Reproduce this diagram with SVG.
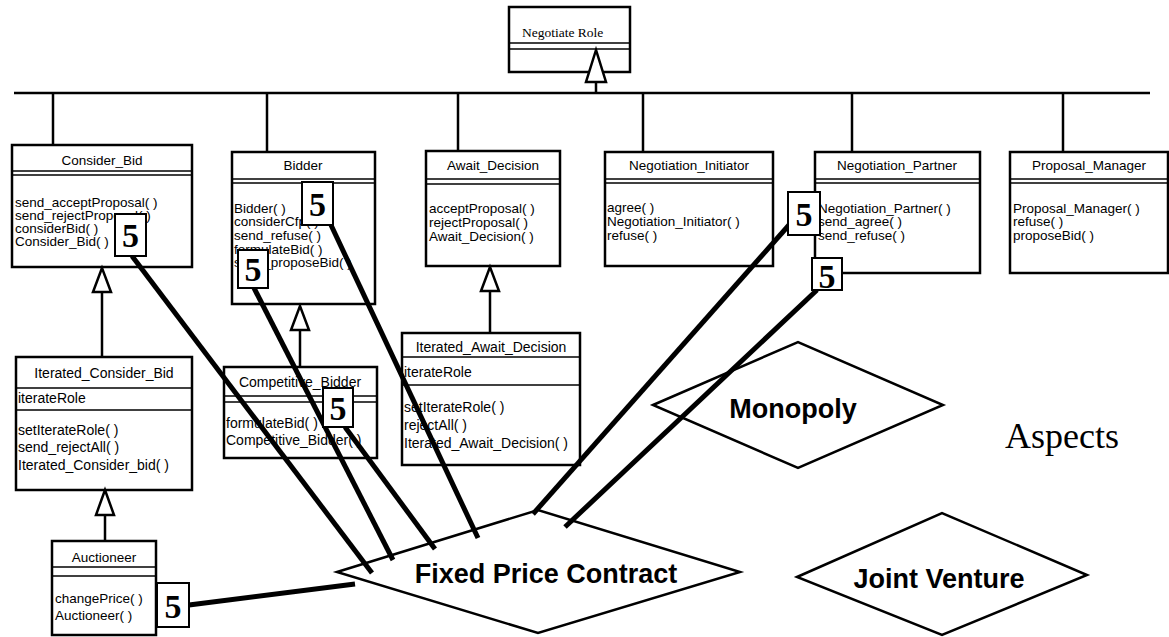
<svg xmlns="http://www.w3.org/2000/svg" width="1169" height="637" viewBox="0 0 1169 637">
  <style>
    .box { fill: #fff; stroke: #000; stroke-width: 2.5; }
    .sep { stroke: #000; stroke-width: 1.5; }
    .t { font-family: "Liberation Sans", Arial, sans-serif; font-size: 13.5px; fill: #000; }
    .it { font-size: 14px; }
    .c { text-anchor: middle; }
    .gen { fill: none; stroke: #000; stroke-width: 2.5; }
    .tri { fill: #fff; stroke: #000; stroke-width: 2.5; stroke-linejoin: miter; }
    .link { stroke: #000; stroke-width: 5; stroke-linecap: butt; }
    .tag { fill: #fff; stroke: #000; stroke-width: 2; }
    .tagt { font-family: "Liberation Serif", "Times New Roman", serif; font-weight: bold; font-size: 34px; text-anchor: middle; }
    .dia { fill: none; stroke: #000; stroke-width: 2.5; stroke-linejoin: miter; }
    .asp { font-family: "Liberation Sans", Arial, sans-serif; font-weight: bold; font-size: 27px; text-anchor: middle; }
  </style>

  <!-- aspect diamonds (behind the aspect links) -->
  <g id="aspect-monopoly">
    <polygon class="dia" points="653,405 798,342 943,405 798,468"/>
    <text class="asp" x="793" y="418">Monopoly</text>
  </g>
  <g id="aspect-joint-venture">
    <polygon class="dia" points="797,577 942,513 1087,575 942,635"/>
    <text class="asp" x="939" y="588">Joint Venture</text>
  </g>
  <g id="aspect-fixed-price">
    <polygon class="dia" points="337,572 538,510 740,572 538,633"/>
    <text class="asp" x="546" y="583">Fixed Price Contract</text>
  </g>
  <text id="aspects-label" x="1005" y="448" font-family="'Liberation Serif', 'Times New Roman', serif" font-size="36">Aspects</text>

  <!-- generalization hierarchy -->
  <g id="inheritance">
    <polyline class="gen" points="14,93 1150,93"/>
    <line class="gen" x1="53" y1="93" x2="53" y2="145"/>
    <line class="gen" x1="267" y1="93" x2="267" y2="152"/>
    <line class="gen" x1="458" y1="93" x2="458" y2="151"/>
    <line class="gen" x1="643" y1="93" x2="643" y2="152"/>
    <line class="gen" x1="852" y1="93" x2="852" y2="152"/>
    <line class="gen" x1="1063" y1="93" x2="1063" y2="152"/>
    <line class="gen" x1="102" y1="292" x2="102" y2="357"/>
    <line class="gen" x1="300" y1="330" x2="300" y2="367"/>
    <line class="gen" x1="490" y1="291" x2="490" y2="333"/>
    <line class="gen" x1="105" y1="515" x2="105" y2="541"/>
  </g>

  <!-- classes -->
  <g id="negotiate-role">
    <rect class="box" x="509" y="7" width="121" height="65"/>
    <line class="sep" x1="509" y1="43" x2="630" y2="43"/>
    <line class="sep" x1="509" y1="49" x2="630" y2="49"/>
    <text x="522" y="37" font-family="'Liberation Serif', 'Times New Roman', serif" font-size="13.5">Negotiate Role</text>
  </g>

  <g id="consider-bid">
    <rect class="box" x="12" y="145" width="180" height="122"/>
    <line class="sep" x1="12" y1="171" x2="192" y2="171"/>
    <line class="sep" x1="12" y1="175" x2="192" y2="175"/>
    <text class="t c" x="102" y="165">Consider_Bid</text>
    <text class="t" x="15" y="207">send_acceptProposal( )</text>
    <text class="t" x="15" y="220">send_rejectProposal( )</text>
    <text class="t" x="15" y="233">considerBid( )</text>
    <text class="t" x="15" y="246">Consider_Bid( )</text>
  </g>

  <g id="bidder">
    <rect class="box" x="232" y="152" width="143" height="152"/>
    <line class="sep" x1="232" y1="179" x2="375" y2="179"/>
    <line class="sep" x1="232" y1="183" x2="375" y2="183"/>
    <text class="t c" x="303" y="170">Bidder</text>
    <text class="t" x="234" y="213">Bidder( )</text>
    <text class="t" x="234" y="226">considerCfp( )</text>
    <text class="t" x="234" y="240">send_refuse( )</text>
    <text class="t" x="234" y="254">formulateBid( )</text>
    <text class="t" x="234" y="267">send_proposeBid( )</text>
  </g>

  <g id="await-decision">
    <rect class="box" x="426" y="151" width="134" height="115"/>
    <line class="sep" x1="426" y1="179" x2="560" y2="179"/>
    <line class="sep" x1="426" y1="184" x2="560" y2="184"/>
    <text class="t c" x="493" y="170">Await_Decision</text>
    <text class="t" x="429" y="213">acceptProposal( )</text>
    <text class="t" x="429" y="227">rejectProposal( )</text>
    <text class="t" x="429" y="241">Await_Decision( )</text>
  </g>

  <g id="negotiation-initiator">
    <rect class="box" x="605" y="152" width="168" height="114"/>
    <line class="sep" x1="605" y1="179" x2="773" y2="179"/>
    <line class="sep" x1="605" y1="183" x2="773" y2="183"/>
    <text class="t c" x="689" y="170">Negotiation_Initiator</text>
    <text class="t" x="607" y="212">agree( )</text>
    <text class="t" x="607" y="226">Negotiation_Initiator( )</text>
    <text class="t" x="607" y="240">refuse( )</text>
  </g>

  <g id="negotiation-partner">
    <rect class="box" x="815" y="152" width="165" height="121"/>
    <line class="sep" x1="815" y1="179" x2="980" y2="179"/>
    <line class="sep" x1="815" y1="183" x2="980" y2="183"/>
    <text class="t c" x="897" y="170">Negotiation_Partner</text>
    <text class="t" x="818" y="213">Negotiation_Partner( )</text>
    <text class="t" x="818" y="226">send_agree( )</text>
    <text class="t" x="818" y="240">send_refuse( )</text>
  </g>

  <g id="proposal-manager">
    <rect class="box" x="1010" y="152" width="158" height="121"/>
    <line class="sep" x1="1010" y1="179" x2="1168" y2="179"/>
    <line class="sep" x1="1010" y1="183" x2="1168" y2="183"/>
    <text class="t c" x="1089" y="170">Proposal_Manager</text>
    <text class="t" x="1013" y="213">Proposal_Manager( )</text>
    <text class="t" x="1013" y="226">refuse( )</text>
    <text class="t" x="1013" y="240">proposeBid( )</text>
  </g>

  <g id="iterated-consider-bid">
    <rect class="box" x="16" y="357" width="176" height="133"/>
    <line class="sep" x1="16" y1="388" x2="192" y2="388"/>
    <line class="sep" x1="16" y1="410" x2="192" y2="410"/>
    <text class="t it c" x="104" y="378">Iterated_Consider_Bid</text>
    <text class="t it" x="18" y="403">iterateRole</text>
    <text class="t it" x="18" y="435">setIterateRole( )</text>
    <text class="t it" x="18" y="452">send_rejectAll( )</text>
    <text class="t it" x="18" y="470">Iterated_Consider_bid( )</text>
  </g>

  <g id="competitive-bidder">
    <rect class="box" x="224" y="367" width="153" height="91"/>
    <line class="sep" x1="224" y1="396" x2="377" y2="396"/>
    <line class="sep" x1="224" y1="402" x2="377" y2="402"/>
    <text class="t it c" x="300" y="387">Competitive_Bidder</text>
    <text class="t it" x="226" y="428">formulateBid( )</text>
    <text class="t it" x="226" y="445">Competitive_Bidder( )</text>
  </g>

  <g id="iterated-await-decision">
    <rect class="box" x="402" y="333" width="178" height="132"/>
    <line class="sep" x1="402" y1="357" x2="580" y2="357"/>
    <line class="sep" x1="402" y1="385" x2="580" y2="385"/>
    <text class="t it c" x="491" y="352">Iterated_Await_Decision</text>
    <text class="t it" x="404" y="377">iterateRole</text>
    <text class="t it" x="404" y="412">setIterateRole( )</text>
    <text class="t it" x="404" y="430">rejectAll( )</text>
    <text class="t it" x="404" y="448">Iterated_Await_Decision( )</text>
  </g>

  <g id="auctioneer">
    <rect class="box" x="52" y="541" width="104" height="94"/>
    <line class="sep" x1="52" y1="567" x2="156" y2="567"/>
    <line class="sep" x1="52" y1="576" x2="156" y2="576"/>
    <text class="t c" x="104" y="562">Auctioneer</text>
    <text class="t" x="55" y="603">changePrice( )</text>
    <text class="t" x="55" y="620">Auctioneer( )</text>
  </g>

  <!-- generalization arrowheads -->
  <g id="inheritance-heads">
    <line class="gen" x1="596" y1="82" x2="596" y2="93"/>
    <polygon class="tri" points="596,50 586,82 606,82"/>
    <polygon class="tri" points="102,268 93,292 111,292"/>
    <polygon class="tri" points="300,306 291,330 309,330"/>
    <polygon class="tri" points="490,267 481,291 499,291"/>
    <polygon class="tri" points="105,490 96,515 114,515"/>
  </g>

  <!-- links from the classes to the aspects -->
  <g id="aspect-links">
    <line class="link" x1="132" y1="256" x2="372" y2="573"/>
    <line class="link" x1="254" y1="288" x2="393" y2="560"/>
    <line class="link" x1="345" y1="427" x2="435" y2="549"/>
    <line class="link" x1="331" y1="225" x2="478" y2="538"/>
    <line class="link" x1="789" y1="225" x2="533" y2="514"/>
    <line class="link" x1="817" y1="290" x2="565" y2="527"/>
    <line class="link" x1="189" y1="605" x2="355" y2="584"/>
  </g>

  <!-- aspect count tags -->
  <g id="tags">
    <g id="tag-consider-bid"><rect class="tag" x="115" y="214" width="31" height="42"/><text class="tagt" x="130.5" y="247">5</text></g>
    <g id="tag-bidder-a"><rect class="tag" x="302" y="182" width="31" height="43"/><text class="tagt" x="317.5" y="216">5</text></g>
    <g id="tag-bidder-b"><rect class="tag" x="238" y="250" width="30" height="38"/><text class="tagt" x="253" y="281">5</text></g>
    <g id="tag-competitive-bidder"><rect class="tag" x="323" y="388" width="30" height="39"/><text class="tagt" x="338" y="420">5</text></g>
    <g id="tag-partner-a"><rect class="tag" x="788" y="192" width="32" height="43"/><text class="tagt" x="804" y="226">5</text></g>
    <g id="tag-partner-b"><rect class="tag" x="812" y="258" width="30" height="32"/><text class="tagt" x="827" y="288">5</text></g>
    <g id="tag-auctioneer"><rect class="tag" x="157" y="583" width="32" height="44"/><text class="tagt" x="173" y="618">5</text></g>
  </g>
</svg>
